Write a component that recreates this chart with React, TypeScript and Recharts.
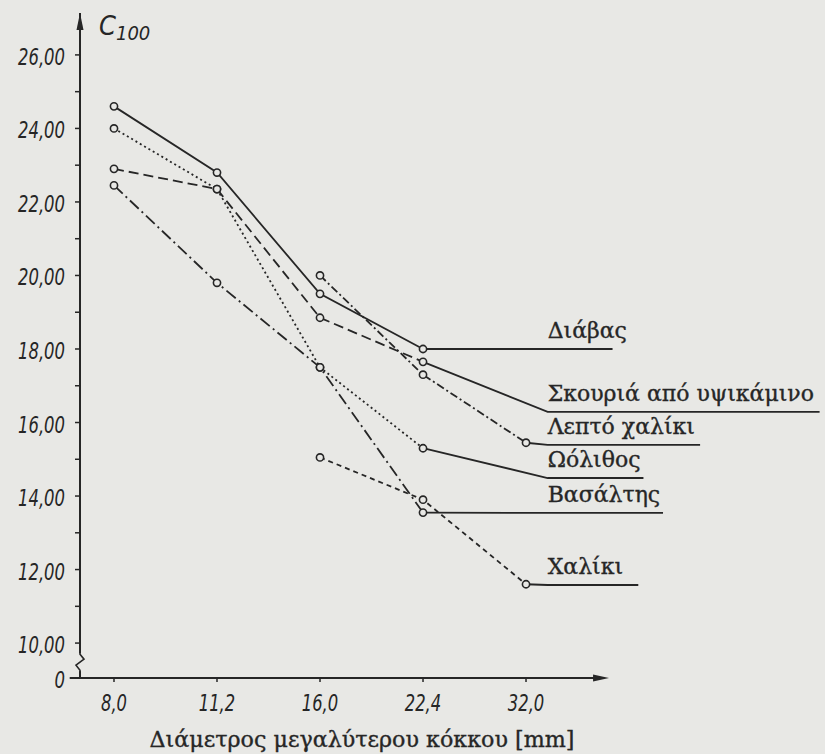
import React from "react";
import { LineChart, Line, XAxis, YAxis, ReferenceLine, ReferenceDot } from "recharts";

// ---- data ----
const categories = ["8,0", "11,2", "16,0", "22,4", "32,0"];
const diavas = [24.6, 22.8, 19.5, 18.0, null];
const skouria = [22.9, 22.35, 18.85, 17.65, null];
const leptoChaliki = [null, null, 20.0, 17.3, 15.45];
const oolithos = [24.0, 22.35, 17.5, 15.3, null];
const vasaltis = [22.45, 19.8, 17.5, 13.55, null];
const chaliki = [null, null, 15.05, 13.9, 11.6];

const seriesNames = ["Διάβας", "Σκουριά από υψικάμινο", "Λεπτό χαλίκι", "Ωόλιθος", "Βασάλτης", "Χαλίκι"];
// label underlines (chart units: x in category index, y in C100)
const labelStartX = 4.21;
const underlineY = [18.0, 16.29, 15.39, 14.49, 13.54, 11.58];
const underlineEndX = [4.84, 6.85, 5.69, 5.14, 5.33, 5.09];

const yTicks = [10, 11, 12, 13, 14, 15, 16, 17, 18, 19, 20, 21, 22, 23, 24, 25, 26];
const yOrigin = 9.05; // broken axis origin, labelled "0"
const yMax = 27.14;
const yBreak = 9.48;
const xMin = -0.33;
const xMax = 6.854;
const xAxisEnd = 4.67;
const yTitle = "C";
const yTitleSub = "100";
const xTitle = "Διάμετρος μεγαλύτερου κόκκου [mm]";

// ---- styling ----
const BG = "#e8e8e5";
const INK = "#262626";
const NUM_FONT = "'Liberation Sans Narrow', 'DejaVu Sans Condensed', 'Roboto', sans-serif";
const GR_FONT = "'DejaVu Serif', 'Liberation Serif', serif";

const seriesValues = [diavas, skouria, leptoChaliki, oolithos, vasaltis, chaliki];
const seriesKeys = ["diavas", "skouria", "lepto", "oolithos", "vasaltis", "chaliki"];
const dashes = ["", "10 5", "8 3 2 3", "2 3", "12 4 2 4", "5 4"];

const table = categories.map((c, i) => {
  const row: any = { x: i, cat: c };
  seriesKeys.forEach((k, s) => {
    row[k] = seriesValues[s][i];
  });
  return row;
});

const leaders = seriesValues.map((vals, s) => {
  let j = vals.length - 1;
  while (j >= 0 && vals[j] == null) j--;
  return [
    { x: j, y: vals[j] },
    { x: labelStartX, y: underlineY[s] },
    { x: underlineEndX[s], y: underlineY[s] },
  ];
});

// narrow numeric text width (mimics a condensed DIN-like face)
const numWidth = (s: string) => {
  let w = 0;
  for (const ch of s) w += ch === "," ? 5 : 10.5;
  return w;
};

const NumText = (props: any) => (
  <text
    {...props}
    fontFamily={NUM_FONT}
    fontStyle="italic"
    fontSize={23}
    fill={INK}
    textLength={numWidth(props.children)}
    lengthAdjust="spacingAndGlyphs"
  />
);

const Dot = (p: any) => {
  if (p.cx == null || p.cy == null || p.value == null) return <g key={p.key || p.index} />;
  return <circle key={p.key || p.index} cx={p.cx} cy={p.cy} r={3.6} fill={BG} stroke={INK} strokeWidth={1.6} />;
};

const YTick = (p: any) => {
  const v = p.payload.value;
  let label: string | null = null;
  if (v === yOrigin) label = "0";
  else if (Math.round(v) % 2 === 0) label = v.toFixed(2).replace(".", ",");
  if (!label) return <g />;
  return (
    <NumText x={p.x - 8} y={p.y + 10} textAnchor="end">
      {label}
    </NumText>
  );
};

const XTick = (p: any) => (
  <NumText x={p.x} y={p.y + 27} textAnchor="middle">
    {categories[p.payload.value]}
  </NumText>
);

const XTitle = (p: any) => {
  const vb = p.viewBox || { x: 80, y: 678 };
  return (
    <text x={vb.x + 282} y={vb.y + 69} textAnchor="middle" fontFamily={GR_FONT} fontSize={22} fill={INK}
      stroke={INK} strokeWidth={0.35} textLength={425} lengthAdjust="spacingAndGlyphs">
      {xTitle}
    </text>
  );
};

export default function App() {
  return (
    <div style={{ position: "absolute", left: 0, top: 0, width: 825, height: 754, background: BG }}>
      <LineChart width={825} height={754} data={table} margin={{ top: 13, right: 5, bottom: 36, left: 8 }}>
        <XAxis
          dataKey="x"
          type="number"
          domain={[xMin, xMax]}
          allowDataOverflow
          ticks={[0, 1, 2, 3, 4]}
          interval={0}
          axisLine={false}
          tickLine={{ stroke: INK, strokeWidth: 1.5 }}
          tickSize={4}
          tickMargin={2}
          height={40}
          tick={<XTick />}
          label={XTitle}
        />
        <YAxis
          type="number"
          domain={[yOrigin, yMax]}
          allowDataOverflow
          ticks={[yOrigin, ...yTicks]}
          interval={0}
          width={72}
          axisLine={{ stroke: INK, strokeWidth: 2 }}
          tickLine={{ stroke: INK, strokeWidth: 1.5 }}
          tickSize={5}
          tickMargin={2}
          tick={<YTick />}
        />
        <ReferenceLine
          segment={[{ x: xMin - 0.1, y: yOrigin }, { x: xAxisEnd, y: yOrigin }]}
          stroke={INK}
          strokeWidth={2}
          ifOverflow="visible"
        />
        <ReferenceDot
          x={xAxisEnd}
          y={yOrigin}
          ifOverflow="visible"
          shape={(p: any) => (
            <path d={`M${p.cx + 14},${p.cy} L${p.cx - 2},${p.cy - 3.5} L${p.cx - 2},${p.cy + 3.5} Z`} fill={INK} />
          )}
        />
        <ReferenceDot
          x={xMin}
          y={yMax}
          ifOverflow="visible"
          shape={(p: any) => (
            <g>
              <path d={`M${p.cx},${p.cy} L${p.cx - 3.5},${p.cy + 17} L${p.cx + 3.5},${p.cy + 17} Z`} fill={INK} />
              <text x={p.cx + 19} y={p.cy + 22} fontFamily={NUM_FONT} fontStyle="italic" fontSize={27} fill={INK}>
                {yTitle}
                <tspan fontSize={20} dy={5}>{yTitleSub}</tspan>
              </text>
            </g>
          )}
        />
        <ReferenceDot
          x={xMin}
          y={yBreak}
          ifOverflow="visible"
          shape={(p: any) => (
            <g>
              <rect x={p.cx - 3} y={p.cy - 9} width={6} height={18} fill={BG} />
              <path
                d={`M${p.cx},${p.cy - 10} L${p.cx},${p.cy - 8} L${p.cx + 4},${p.cy - 3} L${p.cx - 4},${p.cy + 3} L${p.cx},${p.cy + 8} L${p.cx},${p.cy + 10}`}
                fill="none"
                stroke={INK}
                strokeWidth={1.6}
              />
            </g>
          )}
        />
        {leaders.map((ld, s) => (
          <Line
            key={"ld" + s}
            data={ld}
            dataKey="y"
            stroke={INK}
            strokeWidth={1.8}
            isAnimationActive={false}
            legendType="none"
            dot={(p: any) =>
              p.index === 1 ? (
                <text key={"t" + s} x={p.cx} y={p.cy - 11} fontFamily={GR_FONT} fontSize={22} fill={INK}
                  stroke={INK} strokeWidth={0.35}>
                  {seriesNames[s]}
                </text>
              ) : (
                <g key={"g" + s + "_" + p.index} />
              )
            }
            activeDot={false}
          />
        ))}
        {seriesKeys.map((k, s) => (
          <Line
            key={k}
            dataKey={k}
            name={seriesNames[s]}
            stroke={INK}
            strokeWidth={1.8}
            strokeDasharray={dashes[s] || undefined}
            isAnimationActive={false}
            dot={Dot}
            activeDot={false}
            connectNulls={false}
          />
        ))}
      </LineChart>
    </div>
  );
}
